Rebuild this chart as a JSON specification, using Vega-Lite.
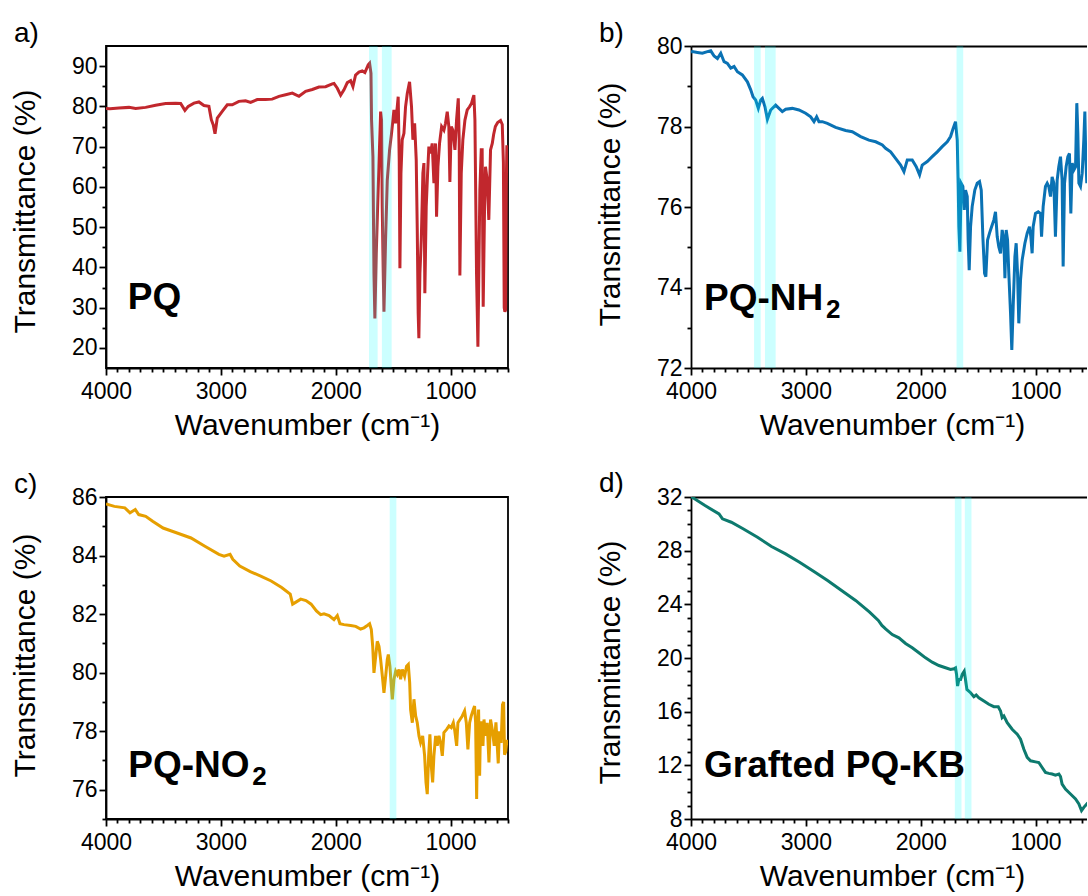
{
  "$schema": "https://vega.github.io/schema/vega-lite/v6.json",
  "padding": {"left": 9, "top": 19, "right": 0, "bottom": 0},
  "background": "white",
  "config": {
    "font": "Liberation Sans",
    "view": {"stroke": "black", "strokeWidth": 1.8},
    "axis": {"domainColor": "black", "domainWidth": 1.8, "tickColor": "black", "tickWidth": 1.8, "labelColor": "black", "labelFontSize": 23, "labelFont": "Liberation Sans", "titleFont": "Liberation Sans", "titleFontSize": 30, "titleFontWeight": "normal", "titleColor": "black", "grid": false, "labelOverlap": false, "labelFlush": false},
    "title": {"fontSize": 28, "fontWeight": "normal", "color": "black", "anchor": "start", "frame": "group", "font": "Liberation Sans"}
  },
  "datasets": {
    "a": [
      {"wn":4000,"T":79.5},{"wn":3965,"T":79.4},{"wn":3887,"T":79.6},{"wn":3800,"T":79.75},{"wn":3742,"T":79.5},{"wn":3655,"T":79.75},{"wn":3568,"T":80.3},{"wn":3481,"T":80.7},{"wn":3394,"T":80.8},{"wn":3350,"T":80.7},{"wn":3313,"T":79.0},{"wn":3284,"T":80.0},{"wn":3234,"T":80.8},{"wn":3191,"T":81.1},{"wn":3147,"T":80.2},{"wn":3104,"T":80.0},{"wn":3083,"T":76.7},{"wn":3066,"T":75.4},{"wn":3051,"T":73.2},{"wn":3031,"T":77.1},{"wn":2988,"T":78.75},{"wn":2944,"T":80.4},{"wn":2901,"T":80.4},{"wn":2843,"T":81.25},{"wn":2785,"T":81.4},{"wn":2741,"T":81.0},{"wn":2683,"T":81.7},{"wn":2611,"T":81.7},{"wn":2553,"T":81.8},{"wn":2494,"T":82.5},{"wn":2436,"T":82.9},{"wn":2378,"T":83.3},{"wn":2320,"T":82.5},{"wn":2262,"T":83.75},{"wn":2204,"T":84.2},{"wn":2146,"T":84.8},{"wn":2088,"T":84.9},{"wn":2030,"T":85.6},{"wn":2015,"T":85.7},{"wn":1986,"T":84.5},{"wn":1957,"T":82.8},{"wn":1928,"T":84.1},{"wn":1899,"T":85.9},{"wn":1870,"T":86.4},{"wn":1850,"T":84.9},{"wn":1827,"T":87.8},{"wn":1798,"T":88.5},{"wn":1769,"T":88.8},{"wn":1746,"T":88.4},{"wn":1717,"T":90.3},{"wn":1705,"T":90.7},{"wn":1693,"T":88.2},{"wn":1688,"T":76.6},{"wn":1676,"T":67.5},{"wn":1667,"T":38.5},{"wn":1659,"T":27.3},{"wn":1647,"T":43.5},{"wn":1635,"T":55.1},{"wn":1624,"T":65.0},{"wn":1609,"T":78.7},{"wn":1601,"T":76.6},{"wn":1595,"T":55.1},{"wn":1586,"T":38.5},{"wn":1580,"T":29.0},{"wn":1566,"T":46.8},{"wn":1551,"T":61.7},{"wn":1531,"T":69.2},{"wn":1514,"T":73.3},{"wn":1493,"T":79.1},{"wn":1479,"T":75.8},{"wn":1464,"T":79.9},{"wn":1456,"T":82.4},{"wn":1447,"T":66.7},{"wn":1441,"T":39.8},{"wn":1432,"T":63.4},{"wn":1421,"T":71.7},{"wn":1406,"T":73.3},{"wn":1392,"T":79.9},{"wn":1377,"T":83.2},{"wn":1357,"T":86.1},{"wn":1340,"T":79.9},{"wn":1328,"T":71.7},{"wn":1313,"T":75.8},{"wn":1299,"T":66.7},{"wn":1290,"T":49.3},{"wn":1282,"T":28.6},{"wn":1276,"T":22.4},{"wn":1267,"T":38.5},{"wn":1255,"T":46.8},{"wn":1241,"T":63.4},{"wn":1232,"T":65.9},{"wn":1224,"T":33.6},{"wn":1212,"T":55.1},{"wn":1200,"T":63.4},{"wn":1189,"T":70.0},{"wn":1174,"T":68.3},{"wn":1160,"T":70.8},{"wn":1145,"T":60.9},{"wn":1131,"T":70.8},{"wn":1122,"T":52.6},{"wn":1110,"T":65.0},{"wn":1096,"T":70.8},{"wn":1078,"T":75.0},{"wn":1058,"T":74.1},{"wn":1044,"T":75.8},{"wn":1029,"T":78.7},{"wn":1015,"T":75.0},{"wn":1006,"T":61.2},{"wn":994,"T":75.0},{"wn":980,"T":74.1},{"wn":962,"T":69.2},{"wn":948,"T":76.6},{"wn":933,"T":82.0},{"wn":925,"T":71.7},{"wn":919,"T":38.0},{"wn":907,"T":63.4},{"wn":893,"T":71.7},{"wn":875,"T":76.6},{"wn":855,"T":79.1},{"wn":835,"T":79.9},{"wn":817,"T":80.8},{"wn":806,"T":82.0},{"wn":797,"T":82.8},{"wn":788,"T":76.6},{"wn":783,"T":63.4},{"wn":774,"T":38.5},{"wn":762,"T":20.3},{"wn":754,"T":38.5},{"wn":745,"T":59.2},{"wn":733,"T":69.2},{"wn":725,"T":69.2},{"wn":716,"T":30.2},{"wn":704,"T":55.1},{"wn":696,"T":65.0},{"wn":681,"T":61.7},{"wn":667,"T":51.8},{"wn":652,"T":69.2},{"wn":637,"T":70.8},{"wn":625,"T":73.0},{"wn":610,"T":75.0},{"wn":590,"T":76.0},{"wn":565,"T":76.5},{"wn":550,"T":75.5},{"wn":540,"T":66.0},{"wn":533,"T":30.0},{"wn":527,"T":29.0},{"wn":521,"T":29.5},{"wn":515,"T":60.0},{"wn":510,"T":70.0},{"wn":500,"T":70.0}
    ],
    "b": [
      {"wn":4000,"T":79.85},{"wn":3988,"T":79.86},{"wn":3944,"T":79.84},{"wn":3901,"T":79.82},{"wn":3857,"T":79.86},{"wn":3828,"T":79.88},{"wn":3799,"T":79.75},{"wn":3770,"T":79.69},{"wn":3741,"T":79.82},{"wn":3712,"T":79.61},{"wn":3683,"T":79.57},{"wn":3654,"T":79.45},{"wn":3625,"T":79.49},{"wn":3596,"T":79.36},{"wn":3553,"T":79.28},{"wn":3509,"T":79.11},{"wn":3480,"T":78.91},{"wn":3460,"T":78.74},{"wn":3437,"T":78.66},{"wn":3414,"T":78.45},{"wn":3393,"T":78.66},{"wn":3379,"T":78.7},{"wn":3356,"T":78.49},{"wn":3335,"T":78.18},{"wn":3306,"T":78.41},{"wn":3263,"T":78.53},{"wn":3234,"T":78.45},{"wn":3205,"T":78.37},{"wn":3176,"T":78.43},{"wn":3118,"T":78.45},{"wn":3060,"T":78.41},{"wn":3002,"T":78.33},{"wn":2958,"T":78.24},{"wn":2929,"T":78.12},{"wn":2906,"T":78.24},{"wn":2886,"T":78.12},{"wn":2857,"T":78.12},{"wn":2813,"T":78.08},{"wn":2741,"T":77.98},{"wn":2654,"T":77.9},{"wn":2596,"T":77.87},{"wn":2523,"T":77.75},{"wn":2451,"T":77.66},{"wn":2392,"T":77.62},{"wn":2334,"T":77.54},{"wn":2306,"T":77.46},{"wn":2262,"T":77.37},{"wn":2219,"T":77.21},{"wn":2175,"T":77.04},{"wn":2146,"T":76.88},{"wn":2117,"T":77.17},{"wn":2074,"T":77.17},{"wn":2039,"T":77.0},{"wn":2010,"T":76.8},{"wn":1987,"T":77.04},{"wn":1943,"T":77.13},{"wn":1900,"T":77.25},{"wn":1856,"T":77.37},{"wn":1813,"T":77.5},{"wn":1769,"T":77.62},{"wn":1740,"T":77.75},{"wn":1720,"T":77.93},{"wn":1697,"T":78.12},{"wn":1682,"T":77.66},{"wn":1674,"T":76.59},{"wn":1668,"T":75.51},{"wn":1659,"T":74.89},{"wn":1648,"T":76.59},{"wn":1633,"T":76.51},{"wn":1621,"T":75.93},{"wn":1610,"T":76.42},{"wn":1595,"T":76.26},{"wn":1587,"T":75.18},{"wn":1578,"T":74.43},{"wn":1566,"T":75.51},{"wn":1552,"T":76.01},{"wn":1529,"T":76.42},{"wn":1508,"T":76.59},{"wn":1488,"T":76.63},{"wn":1473,"T":76.42},{"wn":1459,"T":75.26},{"wn":1444,"T":74.35},{"wn":1433,"T":74.27},{"wn":1418,"T":75.18},{"wn":1401,"T":75.35},{"wn":1383,"T":75.51},{"wn":1363,"T":75.68},{"wn":1349,"T":75.88},{"wn":1334,"T":75.26},{"wn":1320,"T":75.01},{"wn":1305,"T":74.85},{"wn":1291,"T":75.43},{"wn":1276,"T":75.18},{"wn":1267,"T":74.23},{"wn":1256,"T":75.43},{"wn":1244,"T":75.18},{"wn":1233,"T":74.35},{"wn":1218,"T":73.36},{"wn":1207,"T":72.45},{"wn":1195,"T":73.52},{"wn":1180,"T":74.77},{"wn":1169,"T":75.1},{"wn":1157,"T":74.35},{"wn":1146,"T":73.11},{"wn":1131,"T":74.19},{"wn":1117,"T":74.68},{"wn":1093,"T":75.1},{"wn":1073,"T":75.35},{"wn":1053,"T":75.51},{"wn":1041,"T":75.26},{"wn":1030,"T":74.85},{"wn":1021,"T":75.51},{"wn":1001,"T":75.84},{"wn":977,"T":75.88},{"wn":957,"T":75.84},{"wn":948,"T":75.26},{"wn":934,"T":76.01},{"wn":914,"T":76.51},{"wn":899,"T":76.59},{"wn":885,"T":76.51},{"wn":870,"T":76.26},{"wn":856,"T":76.75},{"wn":841,"T":76.59},{"wn":827,"T":75.26},{"wn":812,"T":76.67},{"wn":798,"T":77.0},{"wn":783,"T":77.25},{"wn":769,"T":76.67},{"wn":760,"T":74.52},{"wn":748,"T":76.59},{"wn":734,"T":77.0},{"wn":719,"T":77.25},{"wn":705,"T":77.33},{"wn":693,"T":75.84},{"wn":681,"T":77.09},{"wn":667,"T":76.92},{"wn":652,"T":77.0},{"wn":641,"T":78.58},{"wn":632,"T":77.83},{"wn":623,"T":76.59},{"wn":609,"T":76.51},{"wn":594,"T":76.84},{"wn":580,"T":77.67},{"wn":571,"T":78.37},{"wn":563,"T":77.25},{"wn":554,"T":76.59},{"wn":540,"T":77.0}
    ],
    "c": [
      {"wn":4000,"T":85.76},{"wn":3927,"T":85.68},{"wn":3836,"T":85.63},{"wn":3791,"T":85.46},{"wn":3745,"T":85.57},{"wn":3715,"T":85.4},{"wn":3654,"T":85.34},{"wn":3594,"T":85.17},{"wn":3503,"T":84.94},{"wn":3381,"T":84.77},{"wn":3260,"T":84.6},{"wn":3139,"T":84.32},{"wn":3017,"T":84.04},{"wn":2972,"T":83.98},{"wn":2920,"T":84.04},{"wn":2896,"T":83.87},{"wn":2835,"T":83.64},{"wn":2744,"T":83.45},{"wn":2653,"T":83.3},{"wn":2562,"T":83.13},{"wn":2471,"T":82.91},{"wn":2396,"T":82.68},{"wn":2375,"T":82.34},{"wn":2350,"T":82.4},{"wn":2305,"T":82.51},{"wn":2259,"T":82.46},{"wn":2214,"T":82.34},{"wn":2168,"T":82.11},{"wn":2131,"T":81.98},{"wn":2102,"T":82.01},{"wn":2058,"T":81.95},{"wn":2015,"T":81.81},{"wn":1986,"T":81.95},{"wn":1963,"T":81.67},{"wn":1928,"T":81.64},{"wn":1870,"T":81.61},{"wn":1826,"T":81.58},{"wn":1783,"T":81.49},{"wn":1754,"T":81.53},{"wn":1725,"T":81.61},{"wn":1705,"T":81.67},{"wn":1690,"T":81.47},{"wn":1678,"T":80.9},{"wn":1667,"T":79.99},{"wn":1652,"T":80.56},{"wn":1638,"T":81.07},{"wn":1623,"T":80.9},{"wn":1609,"T":80.45},{"wn":1594,"T":79.88},{"wn":1580,"T":79.31},{"wn":1565,"T":79.88},{"wn":1551,"T":80.45},{"wn":1542,"T":80.62},{"wn":1528,"T":80.22},{"wn":1516,"T":79.54},{"wn":1507,"T":79.09},{"wn":1493,"T":79.77},{"wn":1478,"T":80.05},{"wn":1464,"T":79.94},{"wn":1449,"T":80.11},{"wn":1435,"T":79.77},{"wn":1420,"T":80.11},{"wn":1400,"T":79.88},{"wn":1383,"T":80.22},{"wn":1368,"T":80.28},{"wn":1356,"T":79.65},{"wn":1348,"T":78.74},{"wn":1333,"T":78.29},{"wn":1319,"T":79.09},{"wn":1304,"T":78.52},{"wn":1290,"T":78.29},{"wn":1275,"T":77.84},{"wn":1261,"T":77.61},{"wn":1243,"T":77.84},{"wn":1226,"T":77.16},{"wn":1214,"T":76.25},{"wn":1203,"T":75.85},{"wn":1191,"T":77.16},{"wn":1180,"T":77.89},{"wn":1168,"T":76.81},{"wn":1156,"T":76.25},{"wn":1145,"T":77.16},{"wn":1130,"T":77.84},{"wn":1116,"T":77.5},{"wn":1101,"T":77.84},{"wn":1087,"T":77.61},{"wn":1072,"T":77.16},{"wn":1058,"T":77.95},{"wn":1034,"T":78.06},{"wn":1014,"T":78.18},{"wn":994,"T":78.12},{"wn":976,"T":78.29},{"wn":965,"T":78.06},{"wn":947,"T":77.5},{"wn":936,"T":78.29},{"wn":918,"T":78.4},{"wn":898,"T":78.52},{"wn":878,"T":78.69},{"wn":863,"T":78.29},{"wn":849,"T":77.38},{"wn":834,"T":78.29},{"wn":820,"T":78.52},{"wn":802,"T":78.74},{"wn":791,"T":78.86},{"wn":782,"T":78.29},{"wn":773,"T":75.68},{"wn":765,"T":78.06},{"wn":756,"T":78.74},{"wn":747,"T":76.48},{"wn":739,"T":78.29},{"wn":727,"T":78.29},{"wn":718,"T":77.5},{"wn":709,"T":78.4},{"wn":695,"T":77.84},{"wn":681,"T":78.29},{"wn":666,"T":76.93},{"wn":652,"T":78.4},{"wn":637,"T":78.06},{"wn":620,"T":77.5},{"wn":605,"T":78.3},{"wn":585,"T":76.9},{"wn":575,"T":78.0},{"wn":560,"T":77.6},{"wn":548,"T":78.9},{"wn":538,"T":79.0},{"wn":530,"T":77.2},{"wn":520,"T":77.3},{"wn":510,"T":77.7},{"wn":500,"T":77.5}
    ],
    "d": [
      {"wn":4000,"T":32.0},{"wn":3994,"T":32.0},{"wn":3878,"T":31.36},{"wn":3756,"T":30.74},{"wn":3726,"T":30.37},{"wn":3649,"T":30.12},{"wn":3543,"T":29.62},{"wn":3421,"T":29.0},{"wn":3299,"T":28.31},{"wn":3177,"T":27.76},{"wn":3055,"T":27.14},{"wn":2933,"T":26.47},{"wn":2811,"T":25.78},{"wn":2689,"T":25.03},{"wn":2567,"T":24.29},{"wn":2445,"T":23.42},{"wn":2369,"T":22.8},{"wn":2338,"T":22.43},{"wn":2306,"T":22.17},{"wn":2248,"T":21.75},{"wn":2190,"T":21.5},{"wn":2132,"T":21.08},{"wn":2074,"T":20.76},{"wn":2016,"T":20.39},{"wn":1958,"T":20.01},{"wn":1900,"T":19.69},{"wn":1842,"T":19.44},{"wn":1784,"T":19.27},{"wn":1740,"T":19.15},{"wn":1711,"T":19.2},{"wn":1697,"T":19.27},{"wn":1688,"T":18.77},{"wn":1679,"T":17.91},{"wn":1668,"T":18.4},{"wn":1653,"T":18.4},{"wn":1639,"T":18.77},{"wn":1621,"T":19.02},{"wn":1610,"T":18.4},{"wn":1598,"T":17.66},{"wn":1566,"T":17.41},{"wn":1537,"T":17.12},{"wn":1517,"T":17.24},{"wn":1494,"T":17.04},{"wn":1450,"T":16.79},{"wn":1407,"T":16.55},{"wn":1363,"T":16.37},{"wn":1325,"T":16.37},{"wn":1305,"T":16.05},{"wn":1291,"T":15.56},{"wn":1276,"T":15.68},{"wn":1247,"T":15.18},{"wn":1204,"T":14.69},{"wn":1160,"T":14.32},{"wn":1131,"T":13.95},{"wn":1102,"T":13.2},{"wn":1073,"T":12.59},{"wn":1044,"T":12.34},{"wn":1001,"T":12.26},{"wn":972,"T":12.21},{"wn":943,"T":11.84},{"wn":914,"T":11.47},{"wn":885,"T":11.4},{"wn":856,"T":11.35},{"wn":827,"T":11.27},{"wn":797,"T":11.35},{"wn":783,"T":11.17},{"wn":769,"T":10.6},{"wn":740,"T":10.23},{"wn":696,"T":9.86},{"wn":652,"T":9.49},{"wn":623,"T":9.12},{"wn":600,"T":8.62},{"wn":580,"T":8.87},{"wn":554,"T":9.12},{"wn":540,"T":9.0}
    ],
    "bands": [
      {"panel":"a","wn":1710,"wn2":1635},{"panel":"a","wn":1598,"wn2":1513},
      {"panel":"b","wn":3451,"wn2":3393},{"panel":"b","wn":3356,"wn2":3263},{"panel":"b","wn":1688,"wn2":1630},
      {"panel":"c","wn":1530,"wn2":1472},
      {"panel":"d","wn":1703,"wn2":1645},{"panel":"d","wn":1616,"wn2":1558}
    ],
    "labels": [
      {"panel":"a","label":"PQ","sub":"","wn":3810,"T":29.6},
      {"panel":"b","label":"PQ-NH","sub":"2","wn":3887,"T":73.44},
      {"panel":"c","label":"PQ-NO","sub":"2","wn":3806,"T":76.43},
      {"panel":"d","label":"Grafted PQ-KB","sub":"","wn":3887,"T":11.12}
    ]
  },
  "columns": 2,
  "spacing": {"column": 183, "row": 129},
  "bounds": "flush",
  "concat": [
    {
      "width": 402, "height": 322,
      "title": {"text": "a)", "dx": -92, "offset": -2},
      "resolve": {"axis": {"x": "independent", "y": "independent"}},
      "layer": [
        {
          "data": {"name": "a"},
          "mark": {"type": "line", "color": "#c1272d", "strokeWidth": 3, "clip": true},
          "encoding": {
            "x": {"field": "wn", "type": "quantitative", "title": "Wavenumber (cm⁻¹)", "scale": {"domain": [4000, 500], "nice": false, "zero": false},
              "axis": {"values": [4000,3900,3800,3700,3600,3500,3400,3300,3200,3100,3000,2900,2800,2700,2600,2500,2400,2300,2200,2100,2000,1900,1800,1700,1600,1500,1400,1300,1200,1100,1000,900,800,700,600,500], "format": "d", "labelExpr": "datum.value % 1000 === 0 ? datum.label : ''", "tickSize": {"condition": {"test": "datum.value % 1000 === 0", "value": 7}, "value": 4}, "labelPadding": 5, "titleX": 201, "titleY": 66, "titleBaseline": "alphabetic"}},
            "y": {"field": "T", "type": "quantitative", "title": "Transmittance (%)", "scale": {"domain": [15, 95], "nice": false, "zero": false},
              "axis": {"values": [20,25,30,35,40,45,50,55,60,65,70,75,80,85,90], "labelExpr": "datum.value % 10 === 0 ? datum.label : ''", "tickSize": {"condition": {"test": "datum.value % 10 === 0", "value": 7}, "value": 4}, "labelPadding": 2, "titleX": -72, "titleY": 165, "titleBaseline": "alphabetic", "titleAngle": -90}}
          }
        },
        {
          "data": {"name": "bands"},
          "transform": [{"filter": "datum.panel === 'a'"}],
          "mark": {"type": "rect", "color": "#00ffff", "opacity": 0.2},
          "encoding": {"x": {"field": "wn", "type": "quantitative", "axis": null}, "x2": {"field": "wn2"}}
        },
        {
          "data": {"name": "labels"},
          "transform": [{"filter": "datum.panel === 'a'"}],
          "mark": {"type": "text", "align": "left", "baseline": "alphabetic", "fontSize": 37, "fontWeight": "bold", "color": "black"},
          "encoding": {"x": {"field": "wn", "type": "quantitative", "axis": null}, "y": {"field": "T", "type": "quantitative", "axis": null}, "text": {"field": "label"}}
        }
      ]
    },
    {
      "width": 396, "height": 322,
      "view": {"stroke": null},
      "title": {"text": "b)", "dx": -92, "offset": -13},
      "resolve": {"axis": {"x": "independent", "y": "independent"}},
      "layer": [
        {
          "data": {"name": "b"},
          "mark": {"type": "line", "color": "#0a72b4", "strokeWidth": 3, "clip": true},
          "encoding": {
            "x": {"field": "wn", "type": "quantitative", "title": "Wavenumber (cm⁻¹)", "scale": {"domain": [4000, 552.3], "nice": false, "zero": false},
              "axis": {"values": [4000,3900,3800,3700,3600,3500,3400,3300,3200,3100,3000,2900,2800,2700,2600,2500,2400,2300,2200,2100,2000,1900,1800,1700,1600,1500,1400,1300,1200,1100,1000,900,800,700,600], "format": "d", "labelExpr": "datum.value % 1000 === 0 ? datum.label : ''", "tickSize": {"condition": {"test": "datum.value % 1000 === 0", "value": 7}, "value": 4}, "labelPadding": 5, "titleX": 201, "titleY": 66, "titleBaseline": "alphabetic"}},
            "y": {"field": "T", "type": "quantitative", "title": "Transmittance (%)", "scale": {"domain": [72, 80], "nice": false, "zero": false},
              "axis": {"values": [72,73,74,75,76,77,78,79,80], "labelExpr": "datum.value % 2 === 0 ? datum.label : ''", "tickSize": {"condition": {"test": "datum.value % 2 === 0", "value": 7}, "value": 4}, "labelPadding": 2, "titleX": -72, "titleY": 158, "titleBaseline": "alphabetic", "titleAngle": -90}}
          }
        },
        {
          "data": {"name": "bands"},
          "transform": [{"filter": "datum.panel === 'b'"}],
          "mark": {"type": "rect", "color": "#00ffff", "opacity": 0.2},
          "encoding": {"x": {"field": "wn", "type": "quantitative", "axis": {"orient": "top", "labels": false, "ticks": false, "title": null, "domain": true}}, "x2": {"field": "wn2"}}
        },
        {
          "data": {"name": "labels"},
          "transform": [{"filter": "datum.panel === 'b'"}],
          "mark": {"type": "text", "align": "left", "baseline": "alphabetic", "fontSize": 37, "fontWeight": "bold", "color": "black"},
          "encoding": {"x": {"field": "wn", "type": "quantitative", "axis": null}, "y": {"field": "T", "type": "quantitative", "axis": null}, "text": {"field": "label"}}
        },
        {
          "data": {"name": "labels"},
          "transform": [{"filter": "datum.panel === 'b'"}],
          "mark": {"type": "text", "align": "left", "baseline": "alphabetic", "fontSize": 26, "fontWeight": "bold", "color": "black", "dx": 122, "dy": 8},
          "encoding": {"x": {"field": "wn", "type": "quantitative", "axis": null}, "y": {"field": "T", "type": "quantitative", "axis": null}, "text": {"field": "sub"}}
        }
      ]
    },
    {
      "width": 402, "height": 322,
      "title": {"text": "c)", "dx": -92, "offset": -13},
      "resolve": {"axis": {"x": "independent", "y": "independent"}},
      "layer": [
        {
          "data": {"name": "c"},
          "mark": {"type": "line", "color": "#e69f00", "strokeWidth": 3, "clip": true},
          "encoding": {
            "x": {"field": "wn", "type": "quantitative", "title": "Wavenumber (cm⁻¹)", "scale": {"domain": [4000, 500], "nice": false, "zero": false},
              "axis": {"values": [4000,3900,3800,3700,3600,3500,3400,3300,3200,3100,3000,2900,2800,2700,2600,2500,2400,2300,2200,2100,2000,1900,1800,1700,1600,1500,1400,1300,1200,1100,1000,900,800,700,600,500], "format": "d", "labelExpr": "datum.value % 1000 === 0 ? datum.label : ''", "tickSize": {"condition": {"test": "datum.value % 1000 === 0", "value": 7}, "value": 4}, "labelPadding": 5, "titleX": 201, "titleY": 66, "titleBaseline": "alphabetic"}},
            "y": {"field": "T", "type": "quantitative", "title": "Transmittance (%)", "scale": {"domain": [75, 86], "nice": false, "zero": false},
              "axis": {"values": [75,76,77,78,79,80,81,82,83,84,85,86], "labelExpr": "datum.value % 2 === 0 ? datum.label : ''", "tickSize": {"condition": {"test": "datum.value % 2 === 0", "value": 7}, "value": 4}, "labelPadding": 2, "titleX": -72, "titleY": 158, "titleBaseline": "alphabetic", "titleAngle": -90}}
          }
        },
        {
          "data": {"name": "bands"},
          "transform": [{"filter": "datum.panel === 'c'"}],
          "mark": {"type": "rect", "color": "#00ffff", "opacity": 0.2},
          "encoding": {"x": {"field": "wn", "type": "quantitative", "axis": null}, "x2": {"field": "wn2"}}
        },
        {
          "data": {"name": "labels"},
          "transform": [{"filter": "datum.panel === 'c'"}],
          "mark": {"type": "text", "align": "left", "baseline": "alphabetic", "fontSize": 37, "fontWeight": "bold", "color": "black"},
          "encoding": {"x": {"field": "wn", "type": "quantitative", "axis": null}, "y": {"field": "T", "type": "quantitative", "axis": null}, "text": {"field": "label"}}
        },
        {
          "data": {"name": "labels"},
          "transform": [{"filter": "datum.panel === 'c'"}],
          "mark": {"type": "text", "align": "left", "baseline": "alphabetic", "fontSize": 26, "fontWeight": "bold", "color": "black", "dx": 124, "dy": 8},
          "encoding": {"x": {"field": "wn", "type": "quantitative", "axis": null}, "y": {"field": "T", "type": "quantitative", "axis": null}, "text": {"field": "sub"}}
        }
      ]
    },
    {
      "width": 396, "height": 322,
      "view": {"stroke": null},
      "title": {"text": "d)", "dx": -92, "offset": -12},
      "resolve": {"axis": {"x": "independent", "y": "independent"}},
      "layer": [
        {
          "data": {"name": "d"},
          "mark": {"type": "line", "color": "#0d7a6e", "strokeWidth": 3, "clip": true},
          "encoding": {
            "x": {"field": "wn", "type": "quantitative", "title": "Wavenumber (cm⁻¹)", "scale": {"domain": [4000, 552.3], "nice": false, "zero": false},
              "axis": {"values": [4000,3900,3800,3700,3600,3500,3400,3300,3200,3100,3000,2900,2800,2700,2600,2500,2400,2300,2200,2100,2000,1900,1800,1700,1600,1500,1400,1300,1200,1100,1000,900,800,700,600], "format": "d", "labelExpr": "datum.value % 1000 === 0 ? datum.label : ''", "tickSize": {"condition": {"test": "datum.value % 1000 === 0", "value": 7}, "value": 4}, "labelPadding": 5, "titleX": 201, "titleY": 66, "titleBaseline": "alphabetic"}},
            "y": {"field": "T", "type": "quantitative", "title": "Transmittance (%)", "scale": {"domain": [8, 32], "nice": false, "zero": false},
              "axis": {"values": [8,9,10,11,12,13,14,15,16,17,18,19,20,21,22,23,24,25,26,27,28,29,30,31,32], "labelExpr": "datum.value % 4 === 0 ? datum.label : ''", "tickSize": {"condition": {"test": "datum.value % 4 === 0", "value": 7}, "value": 4}, "labelPadding": 2, "titleX": -72, "titleY": 165, "titleBaseline": "alphabetic", "titleAngle": -90}}
          }
        },
        {
          "data": {"name": "bands"},
          "transform": [{"filter": "datum.panel === 'd'"}],
          "mark": {"type": "rect", "color": "#00ffff", "opacity": 0.2},
          "encoding": {"x": {"field": "wn", "type": "quantitative", "axis": {"orient": "top", "labels": false, "ticks": false, "title": null, "domain": true}}, "x2": {"field": "wn2"}}
        },
        {
          "data": {"name": "labels"},
          "transform": [{"filter": "datum.panel === 'd'"}],
          "mark": {"type": "text", "align": "left", "baseline": "alphabetic", "fontSize": 37, "fontWeight": "bold", "color": "black"},
          "encoding": {"x": {"field": "wn", "type": "quantitative", "axis": null}, "y": {"field": "T", "type": "quantitative", "axis": null}, "text": {"field": "label"}}
        }
      ]
    }
  ]
}
